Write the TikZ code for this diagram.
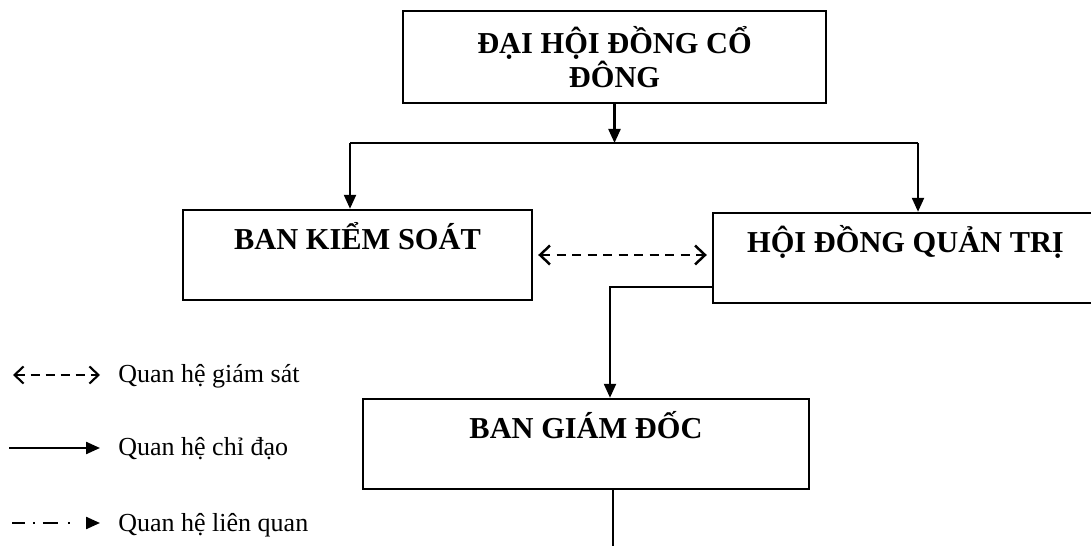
\documentclass[tikz,border=0pt]{standalone}
\usepackage{fontspec}
\setmainfont{Liberation Serif}
\usetikzlibrary{arrows.meta}

\begin{document}
\begin{tikzpicture}[x=0.02cm, y=-0.02cm,
        box/.style={draw, line width=1.4pt, inner sep=0pt,
            font=\bfseries\fontsize{17.3}{17}\selectfont},
        onerow/.style={text height=0.8cm, text depth=1cm},
        link/.style={line width=1.3pt, -{Triangle[length=0.28cm, width=0.24cm]}},
        watch/.style={line width=1.4pt, dash pattern=on 0.18cm off 0.13cm,
            {Straight Barb[length=0.2cm, width=0.38cm]}-{Straight Barb[length=0.2cm, width=0.38cm]}},
        legend/.style={anchor=base west, inner sep=0pt, font=\fontsize{14.8}{17}\selectfont}]

        \useasboundingbox (0,0) rectangle (1091,546);
        \clip (0,0) rectangle (1091,546);

        \node[box, align=center, minimum width=8.46cm, minimum height=1.84cm]
            (dhdcd) at (614.5,57) {ĐẠI HỘI ĐỒNG CỔ\\ĐÔNG};
        \node[box, onerow, minimum width=6.98cm] (bks) at (357.5,255) {BAN KIỂM SOÁT};
        \node[box, onerow, minimum width=7.7cm] (hdqt) at (905.5,258) {HỘI ĐỒNG QUẢN TRỊ};
        \node[box, onerow, minimum width=8.92cm] (bgd) at (586,444) {BAN GIÁM ĐỐC};

        \coordinate (busL) at (350,143);
        \coordinate (busR) at (918,143);
        \coordinate (tail) at (613,560);

        \draw[link] (dhdcd.south) -- (dhdcd.south |- busL);
        \draw[line width=1.3pt] (busL) -- (busR);
        \draw[link] (busL) -- (busL |- bks.north);
        \draw[link] (busR) -- (busR |- hdqt.north);
        \draw[watch, shorten <=0.1cm, shorten >=0.1cm] (bks.east) -- (bks.east -| hdqt.west);
        \draw[link] ([yshift=0.34cm]hdqt.south west) -| ([xshift=0.48cm]bgd.north);
        \draw[line width=1.3pt] (bgd.south -| tail) -- (tail);

        % legend
        \coordinate (g1) at (13,375);
        \coordinate (g2) at (100,375);
        \coordinate (c1) at (9,448);
        \coordinate (c2) at (100,448);
        \coordinate (l1) at (12,523);
        \coordinate (l2) at (100,523);

        \draw[watch, line width=1.2pt, dash pattern=on 0.18cm off 0.12cm,
            {Straight Barb[length=0.18cm, width=0.34cm]}-{Straight Barb[length=0.18cm, width=0.34cm]}] (g1) -- (g2);
        \draw[link] (c1) -- (c2);
        \draw[link, dash pattern=on 0.26cm off 0.16cm on 0.04cm off 0.16cm on 0.3cm off 0.2cm on 0.04cm off 0.4cm] (l1) -- (l2);

        \node[legend] (lgs) at (118,383) {Quan hệ giám sát};
        \node[legend] (lcd) at (118,456) {Quan hệ chỉ đạo};
        \node[legend] (llq) at (118,531) {Quan hệ liên quan};
    \end{tikzpicture}
\end{document}
